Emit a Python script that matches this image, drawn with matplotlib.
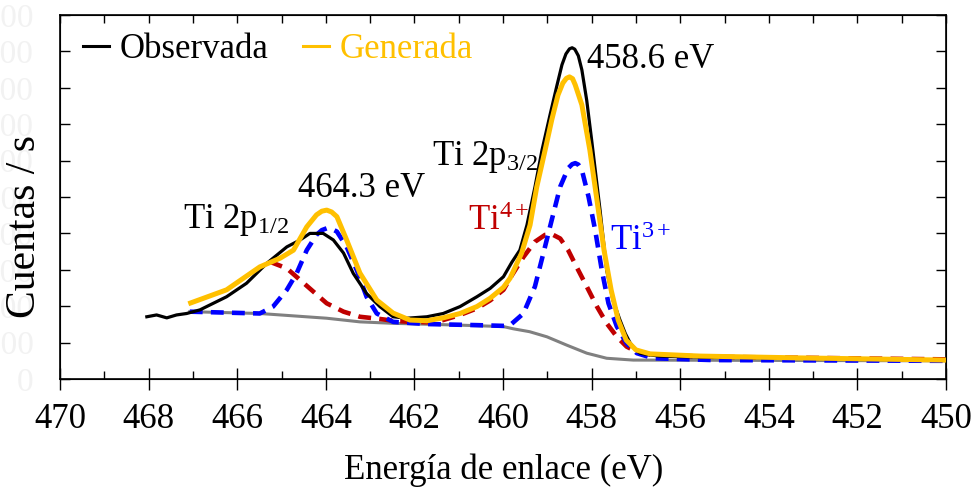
"""Ti 2p XPS spectrum: observed vs generated envelope with Ti4+/Ti3+ components."""

import matplotlib

matplotlib.use("Agg")
import matplotlib.pyplot as plt
from matplotlib.lines import Line2D
from matplotlib.ticker import FormatStrFormatter, MultipleLocator

plt.rcParams["font.family"] = ["Liberation Serif", "DejaVu Serif"]
plt.rcParams["mathtext.fontset"] = "custom"
plt.rcParams["mathtext.rm"] = "Liberation Serif"
plt.rcParams["mathtext.it"] = "Liberation Serif:italic"

# binding energy (eV) / counts
observed_ev = [468.04, 467.82, 467.59, 467.37, 467.14, 466.84, 466.24, 465.79, 465.33,
               464.88, 464.58, 464.36, 464.06, 463.83, 463.60, 463.38, 463.08, 462.78,
               462.48, 462.17, 461.72, 461.35, 460.97, 460.59, 460.29, 459.99, 459.80,
               459.62, 459.46, 459.28, 459.12, 458.94, 458.78, 458.67, 458.58, 458.50,
               458.44, 458.38, 458.30, 458.22, 458.11, 458.00, 457.81, 457.66, 457.52,
               457.36, 457.24, 457.13, 457.02, 456.91, 456.68, 456.46, 455.55, 453.30,
               450.00]
observed_counts = [171, 176, 168, 176, 180, 190, 226, 263, 318,
                   363, 382, 400, 400, 382, 346, 290, 235, 199,
                   171, 167, 171, 180, 199, 226, 249, 281, 321,
                   354, 423, 527, 629, 725, 808, 863, 893, 907,
                   910, 906, 888, 849, 765, 657, 464, 299, 217,
                   162, 125, 99, 82, 71, 66, 63, 60, 58,
                   52]

generated_ev = [467.05, 466.24, 465.49, 465.03, 464.73, 464.43, 464.21, 464.09, 463.98,
                463.87, 463.75, 463.53, 463.23, 462.85, 462.48, 462.10, 461.72, 461.35,
                460.97, 460.59, 460.29, 459.99, 459.84, 459.58, 459.39, 459.24, 459.05,
                458.90, 458.76, 458.65, 458.57, 458.50, 458.43, 458.37, 458.22, 458.04,
                457.88, 457.72, 457.56, 457.40, 457.22, 457.00, 456.68, 455.55, 453.30,
                450.00]
generated_counts = [209, 245, 308, 332, 354, 418, 451, 461, 464,
                    459, 446, 382, 291, 217, 181, 162, 160, 168,
                    180, 199, 222, 252, 277, 346, 423, 527, 629,
                    712, 780, 813, 826, 830, 825, 808, 753, 629,
                    492, 354, 245, 162, 107, 80, 69, 63, 58,
                    52]

ti3_ev = [467.07, 465.49, 465.19, 464.88, 464.66, 464.43, 464.21, 464.09, 463.98,
          463.86, 463.75, 463.53, 463.30, 463.08, 462.85, 462.48, 461.72, 460.59,
          459.99, 459.84, 459.54, 459.28, 459.09, 458.90, 458.71, 458.53, 458.44,
          458.37, 458.30, 458.22, 458.07, 457.92, 457.77, 457.62, 457.43, 457.21,
          456.98, 456.61, 455.25, 450.02]
ti3_counts = [185, 180, 199, 245, 290, 354, 396, 409, 414,
              412, 405, 363, 299, 226, 180, 157, 151, 148,
              146, 148, 180, 254, 345, 437, 528, 579, 590,
              593, 589, 574, 501, 409, 299, 208, 144, 98,
              71, 57, 52, 50]

ti4_ev = [465.26, 464.88, 464.58, 464.28, 463.98, 463.60, 463.23, 462.78, 462.48,
          462.10, 461.72, 461.35, 460.97, 460.59, 460.29, 459.99, 459.80, 459.54,
          459.28, 459.05, 458.90, 458.71, 458.53, 458.34, 458.11, 457.88, 457.66,
          457.43, 457.21, 456.98, 456.61, 455.25, 450.02]
ti4_counts = [322, 304, 272, 240, 208, 185, 171, 165, 160,
              157, 156, 162, 176, 194, 216, 245, 285, 335,
              377, 396, 398, 386, 354, 308, 254, 199, 153,
              116, 89, 75, 66, 61, 54]

background_ev = [467.07, 465.49, 463.98, 463.23, 462.48, 460.97, 459.99, 459.77,
                 459.40, 459.01, 458.56, 458.11, 457.66, 457.06, 450.02]
background_counts = [185, 180, 167, 157, 153, 148, 144, 138,
                     130, 116, 93, 71, 57, 52, 50]

GOLD = "#FFC000"
RED = "#C00000"
BLUE = "#0000FF"
GRAY = "#808080"

fig = plt.figure(figsize=(9.74, 4.9), dpi=100)
ax = fig.add_axes([0.0616, 0.2265, 0.9097, 0.7429])

ax.plot(background_ev, background_counts, color=GRAY, lw=2.2, zorder=2)
ax.plot(ti4_ev, ti4_counts, color=RED, lw=3.3, dashes=(2.8, 1.8), zorder=3)
ax.plot(ti3_ev, ti3_counts, color=BLUE, lw=3.3, dashes=(2.8, 1.8), zorder=4)
ax.plot(observed_ev, observed_counts, color="black", lw=2.3, zorder=5,
        solid_joinstyle="round")
ax.plot(generated_ev, generated_counts, color=GOLD, lw=3.6, zorder=6,
        solid_joinstyle="round")

ax.set_xlim(470, 450)
ax.set_ylim(0, 1000)
ax.xaxis.set_major_locator(MultipleLocator(2))
ax.xaxis.set_minor_locator(MultipleLocator(1))
ax.xaxis.set_major_formatter(FormatStrFormatter("%d"))
ax.yaxis.set_major_locator(MultipleLocator(100))
ax.yaxis.set_major_formatter(FormatStrFormatter("%d"))
ax.tick_params(axis="x", which="major", direction="inout", length=16, width=1,
               labelsize=25, pad=9, labelfontfamily="Liberation Serif")
ax.tick_params(axis="x", which="minor", direction="in", length=5.8, width=1)
ax.tick_params(axis="y", which="major", direction="in", length=7, width=1,
               right=True, labelsize=24, labelcolor="#f2f2f2", pad=19,
               labelfontfamily="Liberation Serif")
for sp in ax.spines.values():
    sp.set_linewidth(1.2)

top = ax.twiny()
top.set_xlim(ax.get_xlim())
top.xaxis.set_major_locator(MultipleLocator(1))
top.tick_params(axis="x", direction="in", length=5.8, width=1, labeltop=False)

ax.set_xlabel("Energía de enlace (eV)", fontsize=25)
ax.xaxis.set_label_coords(0.501, -0.205)
ax.set_ylabel("Cuentas / s", fontsize=30)
ax.yaxis.set_label_coords(-0.018, 0.42)

text_kw = dict(fontsize=25, ha="left", va="baseline", zorder=7)
ax.text(467.23, 415, r"Ti 2p$_{\mathrm{1/2}}$", **text_kw)
ax.text(464.63, 500, "464.3 eV", **text_kw)
ax.text(461.61, 588, r"Ti 2p$_{\mathrm{3/2}}$", **text_kw)
ax.text(458.11, 854, "458.6 eV", **text_kw)
ax.text(460.79, 409, r"Ti$^{\mathrm{4+}}$", color=RED, **text_kw)
ax.text(457.58, 354, r"Ti$^{\mathrm{3+}}$", color=BLUE, **text_kw)

handles = [Line2D([], [], color="black", lw=2.2), Line2D([], [], color=GOLD, lw=2.2)]
ax.legend(handles, ["Observada", "Generada"], ncol=2, frameon=False, fontsize=25,
          handlelength=0.75, handletextpad=0.3, columnspacing=1.0,
          labelcolor=["black", GOLD], loc="upper left",
          bbox_to_anchor=(0.0256, 0.95), borderaxespad=0, borderpad=0)

fig.savefig("out.png", dpi=100)
